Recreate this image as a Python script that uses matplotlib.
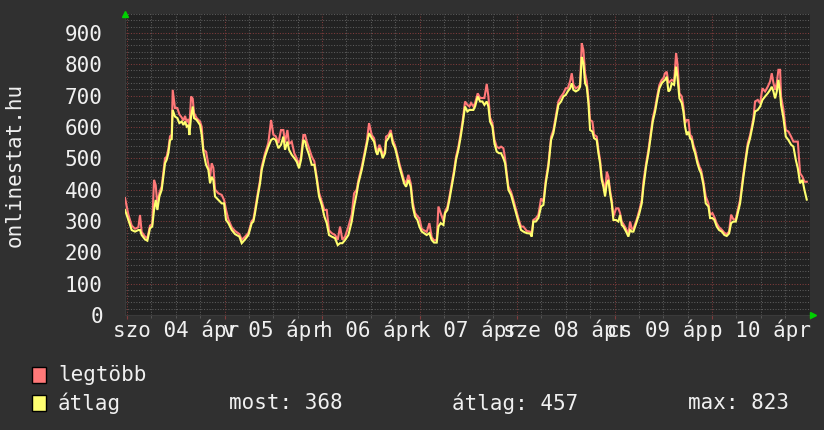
import matplotlib
matplotlib.use("Agg")
import matplotlib.pyplot as plt
from matplotlib.patches import Rectangle
from matplotlib.ticker import MultipleLocator
import matplotlib.transforms as mtransforms

# ---- data (hours since Sat 04 Apr 00:00) ----
hours = [-0.49, 0.33, 1.15, 1.97, 2.79, 3.2, 3.6, 4.43, 5.0, 5.66, 6.2, 6.65, 7.06, 7.47, 7.96, 8.53, 8.94,
         9.35, 9.76, 10.17, 10.58, 11.0, 11.24, 11.8, 12.39, 12.88, 13.46, 13.87, 14.28, 14.69, 15.1, 15.35,
         15.76, 16.17, 16.49, 17.15, 17.97, 18.38, 18.79, 19.45, 20.02, 20.43, 20.84, 21.25, 21.66, 22.48,
         23.3, 23.88, 24.37, 24.94, 25.77, 26.58, 27.65, 28.23, 29.05, 29.87, 30.69, 31.1, 31.5, 32.17,
         32.74, 33.15, 33.56, 33.97, 34.38, 34.79, 35.45, 36.02, 36.6, 37.25, 37.9, 38.48, 38.89, 39.47,
         39.88, 40.53, 41.19, 41.76, 42.34, 42.83, 43.4, 43.82, 44.23, 44.8, 45.46, 46.1, 46.7, 47.26,
         47.92, 48.57, 49.15, 49.72, 50.38, 51.2, 51.86, 52.43, 53.0, 53.66, 54.48, 55.3, 55.88, 56.53,
         56.94, 57.77, 58.34, 59.0, 59.57, 60.23, 60.8, 61.29, 61.62, 62.11, 62.52, 62.93, 63.51, 63.75,
         64.33, 64.9, 65.4, 65.97, 66.38, 67.04, 67.61, 68.18, 68.68, 69.25, 69.83, 70.32, 70.89, 71.47,
         71.96, 72.53, 73.1, 73.76, 74.42, 74.99, 75.57, 76.23, 76.64, 77.21, 77.87, 78.28, 78.85, 79.34,
         79.92, 80.49, 80.98, 81.56, 82.13, 82.63, 83.2, 83.77, 84.27, 84.68, 85.25, 85.66, 86.32, 86.89,
         87.47, 87.96, 88.53, 88.94, 89.35, 89.93, 90.42, 90.99, 91.57, 92.06, 92.63, 93.05, 93.46, 93.87,
         94.52, 95.1, 95.67, 96.33, 96.98, 97.56, 98.38, 99.2, 99.61, 100.0, 100.6, 101.25, 101.91, 102.48,
         103.06, 103.71, 104.37, 104.94, 105.52, 106.17, 106.83, 107.4, 107.98, 108.47, 109.05, 109.46,
         109.87, 110.45, 111.1, 111.51, 111.92, 112.33, 112.74, 113.15, 113.56, 113.97, 114.54, 114.95,
         115.61, 116.02, 116.43, 116.84, 117.25, 117.66, 118.08, 118.48, 118.89, 119.3, 119.71, 120.37,
         120.94, 121.35, 121.76, 122.17, 122.83, 123.4, 123.82, 124.23, 124.64, 125.05, 125.46, 126.11,
         126.69, 127.1, 127.75, 128.33, 128.9, 129.4, 129.97, 130.54, 131.03, 131.61, 132.02, 132.43,
         132.84, 133.25, 133.66, 134.07, 134.65, 135.14, 135.47, 135.96, 136.54, 136.94, 137.35, 137.77,
         138.17, 138.58, 138.99, 139.4, 139.82, 140.38, 140.88, 141.29, 141.87, 142.44, 143.1, 143.51,
         144.08, 144.57, 145.15, 145.72, 146.38, 147.04, 147.61, 148.18, 148.68, 149.25, 149.83, 150.32,
         150.89, 151.3, 151.71, 152.29, 152.78, 153.35, 153.76, 154.17, 154.58, 155.24, 155.82, 156.39,
         157.05, 157.7, 158.28, 158.69, 159.1, 159.51, 159.92, 160.33, 160.74, 160.98, 161.56, 162.14,
         162.79, 163.45, 164.02, 164.6, 165.1, 165.66, 166.24, 166.73, 167.3]

atlag = [335, 303, 271, 266, 271, 271, 255, 241, 237, 277, 282, 335, 367, 335, 378, 399, 441,
         484, 495, 516, 558, 561, 654, 633, 628, 612, 617, 606, 617, 601, 606, 574,
         633, 665, 628, 622, 606, 574, 521, 479, 463, 420, 441, 430, 378, 367,
         356, 356, 303, 293, 271, 258, 250, 229, 241, 255, 293, 298, 325, 378,
         420, 463, 484, 506, 521, 537, 558, 563, 558, 532, 543, 569, 527, 553,
         527, 511, 500, 489, 468, 495, 558, 553, 532, 511, 479, 479, 431, 378,
         351, 314, 293, 255, 250, 245, 223, 229, 229, 239, 255, 298, 346, 388,
         420, 463, 500, 543, 580, 564, 553, 521, 511, 532, 521, 500, 516, 553,
         564, 580, 548, 532, 511, 473, 447, 420, 409, 431, 409, 346, 314, 303,
         282, 266, 261, 255, 261, 239, 231, 231, 282, 293, 287, 325, 335, 367,
         409, 452, 495, 527, 569, 612, 665, 649, 654, 654, 654, 665, 697, 681,
         681, 670, 681, 665, 617, 601, 548, 521, 516, 516, 500, 484, 441, 399,
         383, 356, 330, 298, 271, 266, 261, 260, 250, 298, 298, 309, 346, 351,
         420, 473, 558, 580, 622, 670, 681, 697, 702, 713, 723, 739,
         718, 713, 718, 728, 823, 803, 739, 728, 676, 590, 585, 564,
         558, 516, 484, 431, 409, 378, 420, 431, 388, 356, 303, 303,
         298, 319, 287, 282, 266, 250, 271, 266, 266, 282, 298, 325,
         356, 409, 473, 516, 569, 617, 649, 691, 723, 739, 745, 750,
         760, 713, 718, 739, 734, 792, 760, 691, 676, 649, 601, 574,
         585, 564, 558, 532, 516, 484, 463, 452, 415, 356, 346, 309,
         309, 303, 282, 271, 266, 255, 252, 260, 293, 298, 298, 325,
         356, 399, 441, 495, 537, 564, 590, 617, 649, 654, 665, 686,
         697, 707, 718, 728, 713, 691, 713, 750, 707, 670, 628, 569,
         558, 543, 537, 495, 468, 420, 431, 399, 368]

legtobb = [373, 320, 285, 275, 280, 319, 265, 250, 245, 285, 290, 431, 414, 350, 390, 410, 455,
           500, 505, 530, 570, 575, 718, 660, 660, 640, 630, 620, 635, 615, 625, 600,
           697, 690, 644, 628, 617, 600, 527, 521, 480, 440, 484, 470, 400, 388,
           383, 367, 335, 305, 280, 268, 258, 240, 250, 262, 300, 305, 335, 388,
           430, 473, 495, 516, 532, 550, 622, 575, 570, 548, 590, 590, 550, 590,
           545, 553, 515, 500, 480, 505, 574, 574, 553, 532, 506, 490, 440, 390,
           362, 335, 335, 270, 261, 255, 240, 282, 240, 250, 282, 320, 388, 400,
           430, 473, 510, 553, 612, 574, 564, 530, 520, 543, 530, 510, 525, 569,
           574, 590, 558, 540, 520, 483, 457, 430, 420, 447, 420, 360, 325, 315,
           308, 275, 270, 265, 293, 248, 238, 240, 346, 325, 300, 330, 345, 377,
           420, 462, 505, 537, 580, 622, 681, 670, 665, 676, 665, 676, 707, 692,
           692, 692, 737, 697, 630, 612, 560, 537, 532, 537, 532, 500, 452, 410,
           393, 367, 340, 308, 282, 282, 268, 266, 258, 303, 308, 320, 372, 362,
           430, 483, 568, 590, 632, 681, 697, 707, 723, 723, 745, 771,
           734, 723, 728, 734, 867, 845, 771, 745, 692, 622, 617, 575,
           569, 527, 495, 441, 420, 388, 457, 441, 398, 367, 314, 340,
           340, 325, 298, 290, 275, 258, 298, 275, 275, 290, 305, 335,
           367, 425, 483, 527, 580, 628, 660, 702, 734, 750, 755, 771,
           776, 740, 745, 750, 745, 835, 803, 707, 697, 665, 612, 622,
           622, 575, 569, 543, 527, 495, 473, 463, 425, 378, 356, 320,
           325, 312, 292, 280, 272, 262, 258, 266, 320, 305, 305, 335,
           367, 410, 452, 505, 548, 574, 600, 628, 681, 686, 675, 723,
           713, 728, 745, 771, 740, 718, 740, 782, 782, 697, 654, 590,
           585, 569, 553, 553, 553, 452, 441, 425, 425]

day_labels = ["szo 04 ápr", "v 05 ápr", "h 06 ápr", "k 07 ápr", "sze 08 ápr", "cs 09 ápr", "p 10 ápr"]
y_ticks = [0, 100, 200, 300, 400, 500, 600, 700, 800, 900]
legend_names = ["legtöbb", "átlag"]
stats = [("most", 368), ("átlag", 457), ("max", 823)]

# ---- style ----
FONT = "DejaVu Sans Mono"
plt.rcParams["font.family"] = [FONT, "DejaVu Sans"]
FIG_BG = "#303030"
AX_BG = "#222222"
TXT = "#f0f0f0"
RED = "#ff7878"
YEL = "#ffff70"
MINOR_GRID = "#5c5c5c"
MAJOR_GRID = "#803c3c"

W, H = 824, 430
fig = plt.figure(figsize=(W / 100, H / 100), dpi=100, facecolor=FIG_BG)
L, R_, B, T = 125, 810, 315, 14
ax = fig.add_axes([L / W, 1 - B / H, (R_ - L) / W, (B - T) / H])
ax.set_facecolor(AX_BG)

ax.plot(hours, legtobb, color=RED, lw=1.5, zorder=3, solid_joinstyle="miter")
ax.plot(hours, atlag, color=YEL, lw=1.5, zorder=4, solid_joinstyle="miter")

ax.set_xlim(-0.5, 168.1)
ax.set_ylim(0, 960)

# grid
ax.yaxis.set_major_locator(MultipleLocator(100))
ax.yaxis.set_minor_locator(MultipleLocator(20))
ax.xaxis.set_major_locator(MultipleLocator(24))
ax.xaxis.set_minor_locator(MultipleLocator(6))
ax.grid(which="minor", color=MINOR_GRID, lw=0.75, ls=(0, (1, 1.6)), zorder=1)
ax.grid(which="major", color=MAJOR_GRID, lw=0.75, ls=(0, (1, 1.6)), zorder=1)
ax.set_axisbelow(True)

ax.set_yticks(y_ticks)
ax.set_yticklabels([str(v) for v in y_ticks])
ax.tick_params(axis="y", which="both", length=0, pad=16, labelsize=15, labelcolor=TXT)
ax.tick_params(axis="x", which="major", length=3, color=MAJOR_GRID, labelbottom=False)
ax.tick_params(axis="x", which="minor", length=2, color=MINOR_GRID, labelbottom=False)

for s in ["top", "right"]:
    ax.spines[s].set_visible(False)
ax.spines["left"].set_color("#3a3a3a")
ax.spines["bottom"].set_color("#3a3a3a")

# day labels centred at noon (overlapping, as in the original)
trans = mtransforms.blended_transform_factory(ax.transData, ax.transAxes)
for i, lab in enumerate(day_labels):
    ax.text(12 + 24 * i, -15 / (B - T), lab, transform=trans, ha="center", va="center",
            fontsize=15, color=TXT)

# green arrows
ax.plot([0], [1.0], marker="^", color="#00d000", ms=5, transform=ax.transAxes, clip_on=False, zorder=5)
ax.plot([1.004], [0], marker=">", color="#00d000", ms=5, transform=ax.transAxes, clip_on=False, zorder=5)

# y label
fig.text(15 / W, 1 - 165 / H, "onlinestat.hu", rotation=90, ha="center", va="center",
         fontsize=15, color=TXT)

# legend
for i, (name, col) in enumerate(zip(legend_names, [RED, YEL])):
    yc = 375 + 28 * i
    fig.add_artist(Rectangle((32 / W, 1 - (yc + 8) / H), 14 / W, 16 / H, transform=fig.transFigure,
                             facecolor=col, edgecolor="black", lw=1))
    fig.text(58 / W, 1 - yc / H, name, ha="left", va="center", fontsize=15, color=TXT)

for (name, val), xs in zip(stats, [229, 452, 688]):
    fig.text(xs / W, 1 - 403 / H, f"{name}: {val}", ha="left", va="center", fontsize=15, color=TXT)

fig.savefig("out.png", dpi=100, facecolor=FIG_BG)
